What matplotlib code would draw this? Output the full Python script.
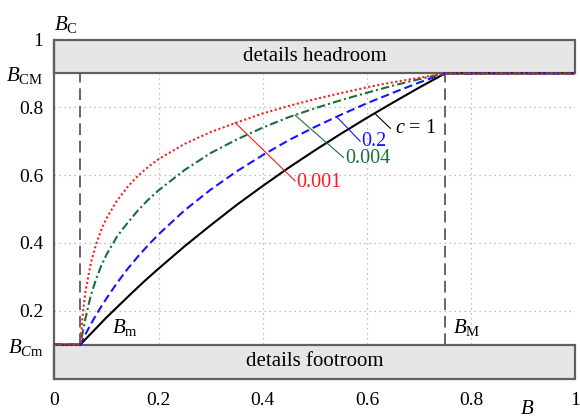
import matplotlib
matplotlib.use("Agg")
import matplotlib.pyplot as plt
from matplotlib.patches import Rectangle

plt.rcParams['font.family'] = ['Liberation Serif', 'DejaVu Serif']
plt.rcParams['mathtext.fontset'] = 'custom'
plt.rcParams['mathtext.rm'] = 'Liberation Serif'
plt.rcParams['mathtext.it'] = 'Liberation Serif:italic'

# data
B_m, B_M = 0.05, 0.75
B_Cm, B_CM = 0.1, 0.9

black_x = [0, 0.05, 0.075, 0.10, 0.125, 0.15, 0.175, 0.20, 0.25, 0.30, 0.35, 0.40, 0.45, 0.50,
           0.55, 0.60, 0.65, 0.70, 0.75, 1]
black_y = [0.1, 0.1, 0.140, 0.180, 0.217, 0.254, 0.290, 0.324, 0.390, 0.452, 0.512, 0.568, 0.622, 0.673,
           0.722, 0.769, 0.814, 0.858, 0.9, 0.9]

blue_x = [0, 0.05, 0.055, 0.06, 0.07, 0.08, 0.09, 0.10, 0.12, 0.14, 0.16, 0.18, 0.20, 0.25, 0.30,
          0.35, 0.40, 0.45, 0.50, 0.55, 0.60, 0.65, 0.70, 0.75, 1]
blue_y = [0.1, 0.1, 0.116, 0.131, 0.160, 0.187, 0.212, 0.236, 0.281, 0.322, 0.359, 0.393, 0.425, 0.496, 0.557,
          0.611, 0.659, 0.703, 0.742, 0.778, 0.812, 0.843, 0.873, 0.9, 0.9]

green_x = [0, 0.05, 0.055, 0.06, 0.07, 0.08, 0.09, 0.10, 0.12, 0.14, 0.16, 0.18, 0.20, 0.25, 0.30,
           0.35, 0.40, 0.45, 0.50, 0.55, 0.60, 0.65, 0.70, 0.75, 1]
green_y = [0.1, 0.1, 0.140, 0.178, 0.245, 0.292, 0.332, 0.365, 0.418, 0.458, 0.495, 0.527, 0.555, 0.615, 0.665,
           0.705, 0.740, 0.771, 0.797, 0.821, 0.843, 0.864, 0.883, 0.9, 0.9]

red_x = [0, 0.05, 0.055, 0.06, 0.07, 0.08, 0.09, 0.10, 0.12, 0.14, 0.16, 0.18, 0.20, 0.25, 0.30,
         0.35, 0.40, 0.45, 0.50, 0.55, 0.60, 0.65, 0.70, 0.75, 1]
red_y = [0.1, 0.1, 0.195, 0.258, 0.340, 0.395, 0.438, 0.472, 0.524, 0.564, 0.597, 0.624, 0.647, 0.692, 0.727,
         0.755, 0.782, 0.804, 0.824, 0.842, 0.859, 0.874, 0.887, 0.9, 0.9]

x_ticks = [0, 0.2, 0.4, 0.6, 0.8, 1]
x_labels = ['0', '0.2', '0.4', '0.6', '0.8', '1']
y_ticks = [0.1, 0.2, 0.4, 0.6, 0.8, 0.9, 1]
y_labels = [r'$B_{C\mathrm{m}}$', '0.2', '0.4', '0.6', '0.8', r'$B_{\mathrm{CM}}$', '1']
grid_vals = [0.2, 0.4, 0.6, 0.8]

fig = plt.figure(figsize=(5.8, 4.19), dpi=100)
ax = fig.add_axes([0.0936, 0.0966, 0.8984, 0.8091])
ax.set_xlim(0, 1)
ax.set_ylim(0, 1)

edge = '#606060'
for g in grid_vals:
    ax.axhline(g, color='#aaaaaa', lw=0.9, ls=(0, (1, 3)), zorder=1)
    ax.axvline(g, color='#aaaaaa', lw=0.9, ls=(0, (1, 3)), zorder=1)

# head/foot room boxes
ax.add_patch(Rectangle((0, B_CM), 1, 1 - B_CM, facecolor='#e6e6e6', edgecolor=edge, lw=1.6, zorder=2, clip_on=False))
ax.add_patch(Rectangle((0, 0), 1, B_Cm, facecolor='#e6e6e6', edgecolor=edge, lw=1.6, zorder=2, clip_on=False))
ax.text(0.5, (1 + B_CM) / 2, 'details headroom', ha='center', va='center', fontsize=15, zorder=3)
ax.text(0.5, B_Cm / 2, 'details footroom', ha='center', va='center', fontsize=15, zorder=3)

# dashed markers
ax.plot([B_m, B_m], [B_Cm, B_CM], color='#666666', lw=1.4, ls=(0, (6, 3)), zorder=2)
ax.plot([B_M, B_M], [B_Cm, B_CM], color='#666666', lw=1.4, ls=(0, (6, 3)), zorder=2)

ax.plot(black_x, black_y, color='black', lw=1.5, zorder=4)
ax.plot(blue_x, blue_y, color='#1515ff', lw=1.5, ls=(0, (4, 2)), zorder=4)
ax.plot(green_x, green_y, color='#1a6e3a', lw=1.5, ls=(0, (4, 1.5, 1, 1.5)), zorder=4)
ax.plot(red_x, red_y, color='#ff1a1a', lw=1.5, ls=(0, (1, 1.2)), zorder=5)

# leader annotations
ax.plot([0.617, 0.645], [0.779, 0.738], color='black', lw=0.8, zorder=4)
ax.text(0.654, 0.738, r'$c$ = 1', fontsize=14.5, va='center', ha='left', color='black')
ax.plot([0.542, 0.587], [0.772, 0.70], color='#1515ff', lw=0.8, zorder=4)
ax.text(0.59, 0.70, '0.2', fontsize=14.5, va='center', ha='left', color='#1515ff')
ax.plot([0.462, 0.555], [0.777, 0.652], color='#1a6e3a', lw=0.8, zorder=4)
ax.text(0.558, 0.648, '0.004', fontsize=14.5, va='center', ha='left', color='#1a6e3a')
ax.plot([0.347, 0.462], [0.755, 0.583], color='#ff1a1a', lw=0.8, zorder=4)
ax.text(0.465, 0.578, '0.001', fontsize=14.5, va='center', ha='left', color='#ff1a1a')

ax.text(0.11, 0.15, r'$B_{\mathrm{m}}$', fontsize=15, va='center', ha='left')
ax.text(0.765, 0.15, r'$B_{\mathrm{M}}$', fontsize=15, va='center', ha='left')

ax.set_xticks(x_ticks)
ax.set_xticklabels(x_labels, fontsize=14)
ax.set_yticks(y_ticks)
ax.set_yticklabels(y_labels, fontsize=14)
for lbl, t in zip(ax.get_yticklabels(), y_ticks):
    if t in (B_Cm, B_CM):
        lbl.set_fontsize(15)
ax.tick_params(length=0)
ax.tick_params(axis='y', pad=8)
ax.tick_params(axis='x', pad=10)

for s in ['top', 'right', 'bottom']:
    ax.spines[s].set_visible(False)
ax.spines['left'].set_color(edge)
ax.spines['left'].set_linewidth(1.6)

ax.text(0.022, 1.045, r'$B_{\mathrm{C}}$', fontsize=15, ha='center', va='center', clip_on=False)
ax.text(0.907, -0.092, r'$B$', fontsize=15, ha='center', va='center', clip_on=False)

fig.savefig('out.png', dpi=100)
